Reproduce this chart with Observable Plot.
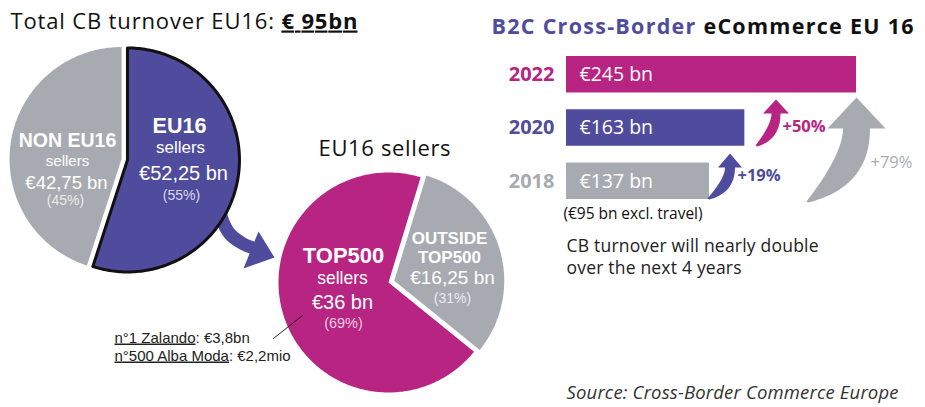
<!DOCTYPE html>
<html><head><meta charset="utf-8">
<script src="https://cdn.jsdelivr.net/npm/d3@7"></script>
<script src="https://cdn.jsdelivr.net/npm/@observablehq/plot@0.6"></script>
<style>
body{margin:0;background:#fff;}
#chart{position:relative;width:925px;height:407px;overflow:hidden;background:#fff;}
#chart svg{position:absolute;left:0;top:0;}
</style></head><body><div id="chart"></div>
<script>
// ---------------- data ----------------
const totalSegments = ["EU16", "NON EU16"];
const totalValues = [52.25, 42.75];
const totalShares = [55, 45];
const sellerSegments = ["OUTSIDE TOP500", "TOP500"];
const sellerValues = [16.25, 36];
const sellerShares = [31, 69];
const years = ["2022", "2020", "2018"];
const turnover = [245, 163, 137];
const growthLabels = ["+19%", "+50%", "+79%"];
const topSellerNames = ["n°1 Zalando", "n°500 Alba Moda"];
const topSellerValues = ["€3,8bn", "€2,2mio"];

// ---------------- style ----------------
const W = 925, H = 407;
const PURPLE = "#4f4c9d", MAGENTA = "#b72482", GREY = "#a7abb1";
const yearColors = [MAGENTA, PURPLE, GREY];
const SANS = "Liberation Sans, Arial, sans-serif";
const OPEN = "Open Sans, sans-serif";
const eur = v => "€" + String(v).replace(".", ",") + " bn";

// ---------------- helpers ----------------
function pieSlices(values, keys, {cx, cy, r, start, explode}) {
  const a0 = start * Math.PI / 180;
  const arcs = d3.pie().sort(null).startAngle(a0).endAngle(a0 + 2 * Math.PI)(values);
  return arcs.map((a, i) => {
    const mid = (a.startAngle + a.endAngle) / 2;
    const ox = cx + explode[i] * Math.sin(mid), oy = cy - explode[i] * Math.cos(mid);
    const pts = [{x: ox, y: oy}];
    const n = Math.ceil((a.endAngle - a.startAngle) / (Math.PI / 180));
    for (let j = 0; j <= n; j++) {
      const t = a.startAngle + (a.endAngle - a.startAngle) * j / n;
      pts.push({x: ox + r * Math.sin(t), y: oy - r * Math.cos(t)});
    }
    return {key: keys[i], pts};
  });
}
function quad(p0, p1, p2, n = 24) {
  const out = [];
  for (let i = 0; i <= n; i++) {
    const t = i / n, u = 1 - t;
    out.push({x: u*u*p0[0] + 2*u*t*p1[0] + t*t*p2[0], y: u*u*p0[1] + 2*u*t*p1[1] + t*t*p2[1]});
  }
  return out;
}
function swoosh(s) {
  const L = [s.cx - s.shaftW / 2, s.baseY], R = [s.cx + s.shaftW / 2, s.baseY];
  const dy = s.tail[1] - s.baseY;
  const left = quad(s.tail, [L[0], s.baseY + 0.35 * dy], L);
  const right = quad(R, [R[0], s.baseY + 0.8 * dy], [s.tail[0] + 2, s.tail[1] + 1]);
  return [...left, {x: s.cx - s.headW / 2, y: s.baseY}, {x: s.cx, y: s.tipY}, {x: s.cx + s.headW / 2, y: s.baseY}, ...right];
}
const label = (text, x, y, o = {}) => Plot.text([{text, x, y}], {
  x: "x", y: "y", text: "text", lineAnchor: "bottom",
  textAnchor: o.anchor || "middle", fontSize: o.size || 14, fontWeight: o.weight || "normal",
  fontFamily: o.family || SANS, fontStyle: o.style || "normal", fill: o.fill || "white"
});
const poly = (pts, o) => Plot.line(pts, {x: "x", y: "y", curve: "linear-closed", stroke: "none", ...o});

// ---------------- bar chart ----------------
const barData = years.map((y, i) => ({year: y, value: turnover[i], color: yearColors[i]}));
const barPlot = Plot.plot({
  width: W, height: H,
  marginLeft: 566, marginRight: W - 856, marginTop: 56, marginBottom: H - 199,
  x: {domain: [32, 245], clamp: true, axis: null},
  y: {domain: years, paddingInner: 0.315, paddingOuter: 0, round: false, axis: null},
  color: {type: "identity"},
  style: {background: "transparent"},
  marks: [
    Plot.barX(barData, {x: "value", y: "year", fill: "color"}),
    Plot.text(barData, {y: "year", frameAnchor: "left", dx: -12, textAnchor: "end", text: "year",
      fill: "color", fontSize: 20, fontWeight: "bold", fontFamily: OPEN}),
    Plot.text(barData, {y: "year", frameAnchor: "left", dx: 13, textAnchor: "start",
      text: d => `€${d.value} bn`, fill: "white", fontSize: 19.5, fontFamily: OPEN})
  ]
});

// ---------------- overlay (pies, arrows, texts) ----------------
const leftPie = pieSlices(totalValues, totalSegments, {cx: 124, cy: 159, r: 112, start: 0, explode: [3, 3]});
const rightPie = pieSlices(sellerValues, sellerSegments, {cx: 388, cy: 282, r: 110, start: 17, explode: [6, 0]});

const bigArrowShaft = [{x: 219, y: 204}, {x: 221, y: 217}, {x: 229, y: 233}, {x: 242, y: 243}, {x: 254, y: 248}];
const bigArrowHead = [{x: 258, y: 231}, {x: 274, y: 257}, {x: 243, y: 268}];

const swooshes = [
  {tail: [707, 198], cx: 729.5, baseY: 167, shaftW: 10, headW: 24, tipY: 153, fill: PURPLE},
  {tail: [755, 145], cx: 775.5, baseY: 113, shaftW: 9, headW: 26, tipY: 99, fill: MAGENTA},
  {tail: [806, 201], cx: 856, baseY: 128, shaftW: 27, headW: 58, tipY: 97, fill: GREY}
];

const titleText = `Total CB turnover EU16: € ${d3.sum(totalValues)}bn`;
const b2cText = "B2C Cross-Border eCommerce EU 16";
const sellerLines = topSellerNames.map((n, i) => `${n}: ${topSellerValues[i]}`);
const sourceText = "Source: Cross-Border Commerce Europe";
const noteLines = ["CB turnover will nearly double", "over the next 4 years"];

const overlay = Plot.plot({
  width: W, height: H, margin: 0,
  x: {domain: [0, W], range: [0, W], axis: null},
  y: {domain: [0, H], range: [0, H], axis: null},
  style: {background: "transparent"},
  marks: [
    // arrow from left pie to right pie
    Plot.line(bigArrowShaft, {x: "x", y: "y", curve: "catmull-rom", stroke: PURPLE, strokeWidth: 13}),
    poly(bigArrowHead, {fill: PURPLE}),
    // left pie
    poly(leftPie[1].pts, {fill: GREY}),
    poly(leftPie[0].pts, {fill: PURPLE, stroke: "#111", strokeWidth: 3, strokeLinejoin: "round"}),
    // right pie
    poly(rightPie[1].pts, {fill: MAGENTA}),
    poly(rightPie[0].pts, {fill: GREY}),
    // left pie labels
    label(totalSegments[1], 67, 146, {size: 19.5, weight: "bold"}),
    label("sellers", 67, 165, {size: 15}),
    label(eur(totalValues[1]), 66, 188, {size: 18.5}),
    label(`(${totalShares[1]}%)`, 65, 204, {size: 14, fill: "rgba(255,255,255,0.78)"}),
    label(totalSegments[0], 179, 132, {size: 21.5, weight: "bold"}),
    label("sellers", 180, 152, {size: 17}),
    label(eur(totalValues[0]), 183, 179, {size: 20}),
    label(`(${totalShares[0]}%)`, 181, 199, {size: 14, fill: "rgba(255,255,255,0.78)"}),
    // right pie labels
    label("EU16 sellers", 384, 155, {size: 22, family: OPEN, fill: "#111"}),
    label(sellerSegments[1], 343, 262, {size: 22, weight: "bold"}),
    label("sellers", 342, 283, {size: 17.5}),
    label(eur(sellerValues[1]), 342, 308, {size: 20}),
    label(`(${sellerShares[1]}%)`, 343, 327, {size: 14.5, fill: "rgba(255,255,255,0.78)"}),
    label(sellerSegments[0].split(" ")[0], 449, 243, {size: 17, weight: "bold"}),
    label(sellerSegments[0].split(" ")[1], 449, 262, {size: 17, weight: "bold"}),
    label(eur(sellerValues[0]), 452, 283, {size: 19}),
    label(`(${sellerShares[0]}%)`, 452, 302, {size: 14, fill: "rgba(255,255,255,0.78)"}),
    // leader line + annotations
    Plot.line([{x: 273, y: 338}, {x: 302, y: 315}], {x: "x", y: "y", stroke: "#222", strokeWidth: 1}),
    label(sellerLines[0], 114, 342, {size: 15, anchor: "start", fill: "#222"}),
    label(sellerLines[1], 114, 360, {size: 15, anchor: "start", fill: "#222"}),
    // titles
    label(titleText, 10, 28, {size: 22, anchor: "start", family: OPEN, fill: "#111"}),
    label(b2cText, 491, 33, {size: 21.5, anchor: "start", family: OPEN, weight: "bold", fill: "#111"}),
    // growth arrows
    ...swooshes.map(s => poly(swoosh(s), {fill: s.fill})),
    label(growthLabels[0], 737, 180, {size: 16.5, anchor: "start", family: OPEN, weight: "bold", fill: PURPLE}),
    label(growthLabels[1], 782, 131, {size: 16.5, anchor: "start", family: OPEN, weight: "bold", fill: MAGENTA}),
    label(growthLabels[2], 870, 167, {size: 16.5, anchor: "start", family: OPEN, fill: GREY}),
    // notes
    label("(€95 bn excl. travel)", 563, 218, {size: 15.5, anchor: "start", family: OPEN, fill: "#111"}),
    label(noteLines[0], 566, 251, {size: 17.5, anchor: "start", family: OPEN, fill: "#222"}),
    label(noteLines[1], 566, 273, {size: 17.5, anchor: "start", family: OPEN, fill: "#222"}),
    label(sourceText, 566, 398, {size: 18.5, anchor: "start", family: OPEN, style: "italic", fill: "#333"})
  ]
});

// rich text (bold / underline / colour runs) and measured widths
const rich = {
  [titleText]: [["Total CB turnover EU16: ", ""], [`€ ${d3.sum(totalValues)}bn`, "font-weight:bold;text-decoration:underline"]],
  [b2cText]: [["B2C Cross-Border", `fill:${PURPLE}`], [" eCommerce EU 16", ""]],
  [sellerLines[0]]: [[topSellerNames[0], "text-decoration:underline"], [": " + topSellerValues[0], ""]],
  [sellerLines[1]]: [[topSellerNames[1], "text-decoration:underline"], [": " + topSellerValues[1], ""]]
};
const widths = {[titleText]: 347, [b2cText]: 422, ["EU16 sellers"]: 132, [sourceText]: 332,
  [noteLines[0]]: 252, [noteLines[1]]: 175, ["(€95 bn excl. travel)"]: 139};
overlay.querySelectorAll("text").forEach(t => {
  const key = t.textContent;
  const spec = rich[key];
  if (spec) {
    t.textContent = "";
    spec.forEach(([s, st]) => {
      const ts = document.createElementNS("http://www.w3.org/2000/svg", "tspan");
      ts.textContent = s;
      if (st) ts.setAttribute("style", st);
      t.appendChild(ts);
    });
  }
  if (widths[key]) t.setAttribute("textLength", widths[key]);
});

const root = document.getElementById("chart");
root.appendChild(barPlot);
root.appendChild(overlay);
</script>
</body></html>
